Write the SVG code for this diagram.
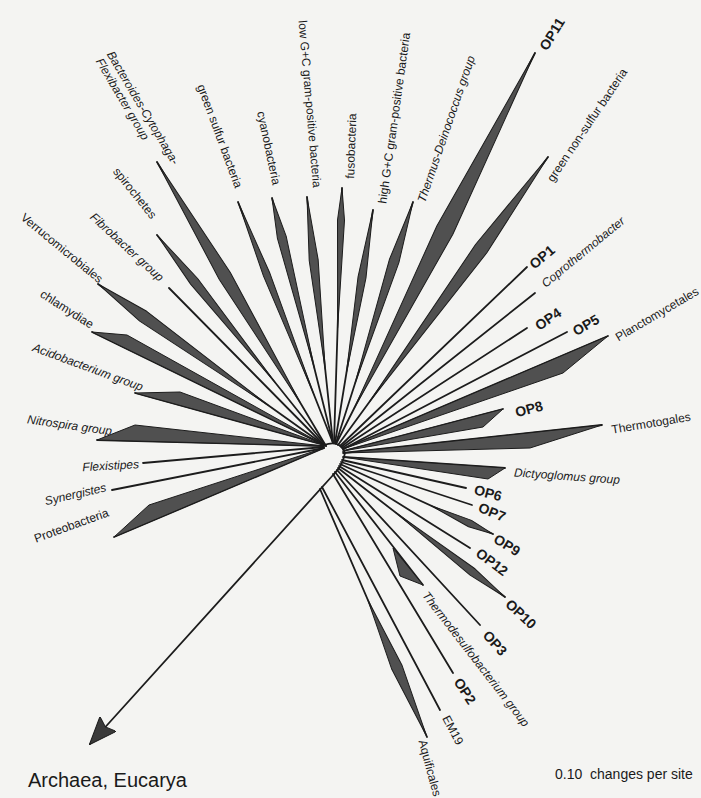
<svg xmlns="http://www.w3.org/2000/svg" width="701" height="798" viewBox="0 0 701 798">
<defs>
<style>
.ln{stroke:#1c1c1c;stroke-width:1.8;fill:none;stroke-linecap:round}
.wd{fill:#505050;stroke:#1c1c1c;stroke-width:1;stroke-linejoin:round}
.lb{font-family:"Liberation Sans",Arial,sans-serif;font-size:12px;fill:#1a1a1a}
.it{font-style:italic}
.op{font-family:"Liberation Sans",Arial,sans-serif;font-size:14px;font-weight:bold;fill:#1a1a1a}
</style>
<marker id="ah" viewBox="0 0 28 22" refX="27" refY="11" markerWidth="28" markerHeight="22" markerUnits="userSpaceOnUse" orient="auto">
<path d="M0,0 L28,11 L0,22 L4,11 z" fill="#3a3a3a" stroke="#1c1c1c" stroke-width="1"/>
</marker>
</defs>
<rect width="701" height="798" fill="#f4f4f2"/>

<g id="connectors">
<path class="ln" d="M324,445 C338,440 347,448 344,457 C342,465 338,470 334,474"/>
<line class="ln" x1="334" y1="474" x2="90" y2="744" marker-end="url(#ah)"/>
<line class="ln" x1="326" y1="446" x2="157" y2="162"/>
<line class="ln" x1="326" y1="446" x2="157" y2="235"/>
<line class="ln" x1="324" y1="445" x2="169" y2="288"/>
<line class="ln" x1="324" y1="445" x2="98" y2="284"/>
<line class="ln" x1="324" y1="445" x2="92" y2="332"/>
<line class="ln" x1="324" y1="445" x2="135" y2="393"/>
<line class="ln" x1="324" y1="446" x2="97" y2="440"/>
<line class="ln" x1="324" y1="447" x2="143" y2="463"/>
<line class="ln" x1="324" y1="448" x2="112" y2="490"/>
<line class="ln" x1="324" y1="448" x2="114" y2="537"/>
<line class="ln" x1="333" y1="443" x2="238" y2="202"/>
<line class="ln" x1="333" y1="443" x2="272" y2="198"/>
<line class="ln" x1="333" y1="443" x2="307" y2="197"/>
<line class="ln" x1="334" y1="443" x2="342" y2="188"/>
<line class="ln" x1="335" y1="443" x2="373" y2="210"/>
<line class="ln" x1="336" y1="443" x2="413" y2="202"/>
<line class="ln" x1="336" y1="444" x2="535" y2="53"/>
<line class="ln" x1="338" y1="445" x2="548" y2="157"/>
<line class="ln" x1="340" y1="446" x2="527" y2="267"/>
<line class="ln" x1="341" y1="447" x2="535" y2="293"/>
<line class="ln" x1="342" y1="448" x2="527" y2="328"/>
<line class="ln" x1="343" y1="449" x2="567" y2="332"/>
<line class="ln" x1="343" y1="449" x2="608" y2="336"/>
<line class="ln" x1="343" y1="451" x2="503" y2="409"/>
<line class="ln" x1="343" y1="453" x2="602" y2="425"/>
<line class="ln" x1="343" y1="457" x2="505" y2="468"/>
<line class="ln" x1="342" y1="460" x2="466" y2="488"/>
<line class="ln" x1="341" y1="462" x2="472" y2="505"/>
<line class="ln" x1="340" y1="464" x2="493" y2="534"/>
<line class="ln" x1="339" y1="466" x2="470" y2="548"/>
<line class="ln" x1="338" y1="468" x2="505" y2="597"/>
<line class="ln" x1="337" y1="470" x2="480" y2="625"/>
<line class="ln" x1="335" y1="472" x2="423" y2="585"/>
<line class="ln" x1="333" y1="474" x2="453" y2="673"/>
<line class="ln" x1="322" y1="487" x2="440" y2="710"/>
<line class="ln" x1="320" y1="489" x2="427" y2="737"/>
</g>

<g id="bacteroides">
<polygon class="wd" transform="translate(326,446) rotate(-120.76)" points="50,0 198,-6.5 330.5,0 198,6.5"/>
<text class="lb it" transform="translate(110,52) rotate(59.3)" dy="0.35em">Bacteroides-Cytophaga-</text>
<text class="lb it" transform="translate(99,59) rotate(59.3)" dy="0.35em">Flexibacter group</text>
</g>
<g id="spirochetes">
<polygon class="wd" transform="translate(326,446) rotate(-128.69)" points="81,0 211,-4.5 270.3,0 211,4.5"/>
<text class="lb" transform="translate(135,193) rotate(51.3)" text-anchor="middle" dy="0.35em">spirochetes</text>
</g>
<g id="fibrobacter">
<text class="lb it" transform="translate(127,247) rotate(42.5)" text-anchor="middle" dy="0.35em">Fibrobacter group</text>
</g>
<g id="verrucomicrobiales">
<polygon class="wd" transform="translate(324,445) rotate(-144.53)" points="69,0 222,-6 277.5,0 222,6"/>
<text class="lb" transform="translate(62,248) rotate(39.4)" text-anchor="middle" dy="0.35em">Verrucomicrobiales</text>
</g>
<g id="chlamydiae">
<polygon class="wd" points="324,445 127,335 92,332"/>
<text class="lb" transform="translate(67,309) rotate(32.6)" text-anchor="middle" dy="0.35em">chlamydiae</text>
</g>
<g id="acidobacterium">
<polygon class="wd" points="324,445 180,392 135,393"/>
<text class="lb it" transform="translate(88,367) rotate(20.2)" text-anchor="middle" dy="0.35em">Acidobacterium group</text>
</g>
<g id="nitrospira">
<polygon class="wd" points="324,446 135,425 97,440"/>
<text class="lb it" transform="translate(112,431) rotate(8)" text-anchor="end" dy="0.35em">Nitrospira group</text>
</g>
<g id="flexistipes">
<text class="lb it" transform="translate(139,464) rotate(-3)" text-anchor="end" dy="0.35em">Flexistipes</text>
</g>
<g id="synergistes">
<text class="lb it" transform="translate(106,487) rotate(-13)" text-anchor="end" dy="0.35em">Synergistes</text>
</g>
<g id="proteobacteria">
<polygon class="wd" points="324,448 149,505 114,537"/>
<text class="lb" transform="translate(108,512) rotate(-20)" text-anchor="end" dy="0.35em">Proteobacteria</text>
</g>
<g id="green-sulfur">
<polygon class="wd" transform="translate(333,443) rotate(-111.5)" points="52,0 181,-3.5 259,0 181,3.5"/>
<text class="lb" transform="translate(220,136) rotate(69.7)" text-anchor="middle" dy="0.35em">green sulfur bacteria</text>
</g>
<g id="cyanobacteria">
<polygon class="wd" transform="translate(333,443) rotate(-103.98)" points="76,0 212,-4.5 252.5,0 212,4.5"/>
<text class="lb" transform="translate(269,148) rotate(78)" text-anchor="middle" dy="0.35em">cyanobacteria</text>
</g>
<g id="low-gc">
<polygon class="wd" transform="translate(333,443) rotate(-96.03)" points="74,0 184,-4.5 247.4,0 184,4.5"/>
<text class="lb" transform="translate(310,104) rotate(85)" text-anchor="middle" dy="0.35em">low G+C gram-positive bacteria</text>
</g>
<g id="fusobacteria">
<polygon class="wd" transform="translate(334,443) rotate(-88.2)" points="115,0 223,-3.5 255.1,0 223,3.5"/>
<text class="lb" transform="translate(351,146) rotate(-88)" text-anchor="middle" dy="0.35em">fusobacteria</text>
</g>
<g id="high-gc">
<polygon class="wd" transform="translate(335,443) rotate(-80.74)" points="71,0 168,-4 236.1,0 168,4"/>
<text class="lb" transform="translate(394,118) rotate(-82)" text-anchor="middle" dy="0.35em">high G+C gram-positive bacteria</text>
</g>
<g id="thermus">
<polygon class="wd" transform="translate(336,443) rotate(-72.28)" points="63,0 191,-5 253,0 191,5"/>
<text class="lb it" transform="translate(446,129) rotate(-71)" text-anchor="middle" dy="0.35em">Thermus-Deinococcus group</text>
</g>
<g id="op11">
<polygon class="wd" transform="translate(336,444) rotate(-63.03)" points="40,0 240,-9 438.7,0 240,9"/>
<text class="op" transform="translate(552,34) rotate(-58)" text-anchor="middle" dy="0.35em">OP11</text>
</g>
<g id="green-nonsulfur">
<polygon class="wd" transform="translate(338,445) rotate(-53.9)" points="54,0 243,-7 356.4,0 243,7"/>
<text class="lb" transform="translate(587,125) rotate(-56)" text-anchor="middle" dy="0.35em">green non-sulfur bacteria</text>
</g>
<g id="op1">
<text class="op" transform="translate(542,257) rotate(-40)" text-anchor="middle" dy="0.35em">OP1</text>
</g>
<g id="coprothermobacter">
<text class="lb it" transform="translate(583,252) rotate(-39.5)" text-anchor="middle" dy="0.35em">Coprothermobacter</text>
</g>
<g id="op4">
<text class="op" transform="translate(548,319) rotate(-34)" text-anchor="middle" dy="0.35em">OP4</text>
</g>
<g id="op5">
<text class="op" transform="translate(586,325) rotate(-30)" text-anchor="middle" dy="0.35em">OP5</text>
</g>
<g id="planctomycetales">
<polygon class="wd" points="343,449 608,336 563,373"/>
<text class="lb" transform="translate(657,314) rotate(-30.5)" text-anchor="middle" dy="0.35em">Planctomycetales</text>
</g>
<g id="op8">
<polygon class="wd" points="343,451 503,409 483,427"/>
<text class="op" transform="translate(529,409) rotate(-15)" text-anchor="middle" dy="0.35em">OP8</text>
</g>
<g id="thermotogales">
<polygon class="wd" points="343,453 602,425 530,448"/>
<text class="lb" transform="translate(651,423) rotate(-9.5)" text-anchor="middle" dy="0.35em">Thermotogales</text>
</g>
<g id="dictyoglomus">
<polygon class="wd" points="343,457 505,468 488,479"/>
<text class="lb it" transform="translate(567,476) rotate(4)" text-anchor="middle" dy="0.35em">Dictyoglomus group</text>
</g>
<g id="op6">
<text class="op" transform="translate(488,493) rotate(15)" text-anchor="middle" dy="0.35em">OP6</text>
</g>
<g id="op7">
<text class="op" transform="translate(492,512) rotate(22)" text-anchor="middle" dy="0.35em">OP7</text>
</g>
<g id="op9">
<polygon class="wd" transform="translate(340,464) rotate(24.6)" points="100,0 143,-3.5 168.3,0 143,3.5"/>
<text class="op" transform="translate(507,545) rotate(32)" text-anchor="middle" dy="0.35em">OP9</text>
</g>
<g id="op12">
<text class="op" transform="translate(492,562) rotate(37)" text-anchor="middle" dy="0.35em">OP12</text>
</g>
<g id="op10">
<polygon class="wd" transform="translate(338,468) rotate(37.69)" points="73,0 170,-4 211,0 170,4"/>
<text class="op" transform="translate(521,614) rotate(43)" text-anchor="middle" dy="0.35em">OP10</text>
</g>
<g id="op3">
<text class="op" transform="translate(495,643) rotate(48)" text-anchor="middle" dy="0.35em">OP3</text>
</g>
<g id="thermodesulfobacterium">
<polygon class="wd" points="393,548 423,585 400,576"/>
<text class="lb it" transform="translate(476,659) rotate(52.3)" text-anchor="middle" dy="0.35em">Thermodesulfobacterium group</text>
</g>
<g id="op2">
<text class="op" transform="translate(465,691) rotate(57)" text-anchor="middle" dy="0.35em">OP2</text>
</g>
<g id="em19">
<text class="lb" transform="translate(453,730) rotate(62)" text-anchor="middle" dy="0.35em">EM19</text>
</g>
<g id="aquificales">
<polygon class="wd" transform="translate(320,489) rotate(66.67)" points="121,0 194,-5.5 269.9,0 194,5.5"/>
<text class="lb" transform="translate(430,768) rotate(75)" text-anchor="middle" dy="0.35em">Aquificales</text>
</g>
<g id="archaea-eucarya">
<text x="28" y="787" font-family="Liberation Sans, Arial, sans-serif" font-size="20" fill="#1a1a1a">Archaea, Eucarya</text>
</g>
<g id="scale">
<text x="555" y="779" font-family="Liberation Sans, Arial, sans-serif" font-size="14" fill="#1a1a1a">0.10&#160; changes per site</text>
</g>
</svg>
